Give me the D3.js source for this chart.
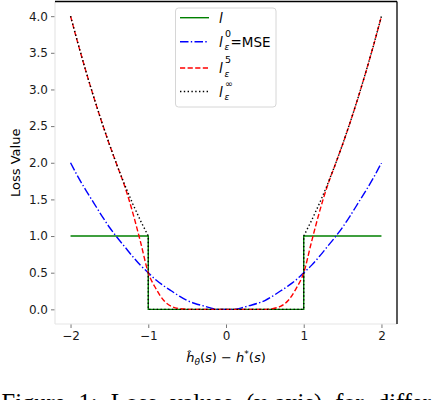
<!DOCTYPE html>
<html>
<head>
<meta charset="utf-8">
<title>Loss values</title>
<script src="https://d3js.org/d3.v7.min.js"></script>
<style>
  body { margin: 0; background: #fff; }
  svg text { font-family: "DejaVu Sans", sans-serif; }
</style>
</head>
<body>
<div id="chart"></div>
<script>
"use strict"

// x positions read along the horizontal axis
var xGrid = [-2.0, -1.9, -1.8, -1.7, -1.6, -1.5, -1.4, -1.3, -1.2, -1.1, -1.0,
             -0.9, -0.8, -0.7, -0.6, -0.5, -0.4, -0.3, -0.2, -0.1, 0.0,
              0.1,  0.2,  0.3,  0.4,  0.5,  0.6,  0.7,  0.8,  0.9, 1.0,
              1.1,  1.2,  1.3,  1.4,  1.5,  1.6,  1.7,  1.8,  1.9, 2.0];

// l_eps^0 = MSE (blue dash-dot)
var mseVals = [2.00, 1.80, 1.62, 1.45, 1.28, 1.12, 0.98, 0.85, 0.72, 0.60, 0.50,
               0.40, 0.32, 0.25, 0.18, 0.12, 0.08, 0.05, 0.02, 0.00, 0.00,
               0.00, 0.02, 0.05, 0.08, 0.12, 0.18, 0.25, 0.32, 0.40, 0.50,
               0.60, 0.72, 0.85, 0.98, 1.12, 1.28, 1.45, 1.62, 1.80, 2.00];

// l_eps^5 (red dashed)
var p5Vals = [4.00, 3.61, 3.24, 2.89, 2.56, 2.25, 1.96, 1.67, 1.32, 0.92, 0.50,
              0.28, 0.12, 0.04, 0.01, 0.00, 0.00, 0.00, 0.00, 0.00, 0.00,
              0.00, 0.00, 0.00, 0.00, 0.00, 0.01, 0.04, 0.12, 0.28, 0.50,
              0.92, 1.32, 1.67, 1.96, 2.25, 2.56, 2.89, 3.24, 3.61, 4.00];

// l_eps^inf (black dotted) - jumps at +-1
var infX = [-2.0, -1.9, -1.8, -1.7, -1.6, -1.5, -1.4, -1.3, -1.2, -1.1, -1.0,
            -1.0, 1.0,
             1.0,  1.1,  1.2,  1.3,  1.4,  1.5,  1.6,  1.7,  1.8,  1.9, 2.0];
var infVals = [4.00, 3.61, 3.24, 2.89, 2.56, 2.25, 1.96, 1.69, 1.44, 1.21, 1.00,
               0.00, 0.00,
               1.00, 1.21, 1.44, 1.69, 1.96, 2.25, 2.56, 2.89, 3.24, 3.61, 4.00];

// l (green step)
var stepX = [-2, -1, -1, 1, 1, 2];
var stepVals = [1, 1, 0, 0, 1, 1];

var xTicks = [-2, -1, 0, 1, 2];
var yTicks = [0.0, 0.5, 1.0, 1.5, 2.0, 2.5, 3.0, 3.5, 4.0];

var W = 432, H = 400;
var plotL = 55, plotR = 397, plotT = 1.5, plotB = 324;

var svg = d3.select('#chart').append('svg')
    .attr('width', W).attr('height', H);

var x = d3.scaleLinear().domain([-2.2, 2.2]).range([plotL, plotR]);
var y = d3.scaleLinear().domain([-0.2, 4.2]).range([plotB, plotT]);

// axes
var ax = svg.append('g')
    .attr('transform', 'translate(0,' + plotB + ')')
    .call(d3.axisBottom(x).tickValues(xTicks).tickFormat(d3.format('d'))
          .tickSizeOuter(0).tickSizeInner(4).tickPadding(3));
var ay = svg.append('g')
    .attr('transform', 'translate(' + plotL + ',0)')
    .call(d3.axisLeft(y).tickValues(yTicks).tickFormat(d3.format('.1f'))
          .tickSizeOuter(0).tickSizeInner(4).tickPadding(3));
[ax, ay].forEach(function(g) {
  g.select('.domain').remove();
  g.selectAll('.tick line').attr('stroke', '#555').attr('stroke-width', 0.8);
  g.selectAll('.tick text').attr('fill', '#1a1a1a')
    .style('font-family', '"DejaVu Sans", sans-serif').style('font-size', '12px');
});

// spines: left/bottom pale, top/right dark
svg.append('line').attr('x1', plotL).attr('x2', plotL).attr('y1', plotT).attr('y2', plotB)
  .attr('stroke', '#e6e6e6').attr('stroke-width', 1.2);
svg.append('line').attr('x1', plotL).attr('x2', plotR).attr('y1', plotB).attr('y2', plotB)
  .attr('stroke', '#e6e6e6').attr('stroke-width', 1.2);
svg.append('line').attr('x1', plotL).attr('x2', plotR).attr('y1', plotT).attr('y2', plotT)
  .attr('stroke', '#000').attr('stroke-width', 1.3);
svg.append('line').attr('x1', plotR).attr('x2', plotR).attr('y1', plotT).attr('y2', plotB)
  .attr('stroke', '#000').attr('stroke-width', 1.3);

function pts(xs, ys) { return xs.map(function(v, i) { return [v, ys[i]]; }); }

var lineLin = d3.line().x(function(d) { return x(d[0]); }).y(function(d) { return y(d[1]); });
var lineSmooth = d3.line().x(function(d) { return x(d[0]); }).y(function(d) { return y(d[1]); })
    .curve(d3.curveMonotoneX);

var series = [
  { data: pts(stepX, stepVals), color: '#008000', dash: null, gen: lineLin },
  { data: pts(xGrid, mseVals), color: '#0000ff', dash: '8.5,2.3,1.4,2.3', gen: lineSmooth },
  { data: pts(xGrid, p5Vals), color: '#ff0000', dash: '5.2,2.4', gen: lineSmooth },
  { data: pts(infX, infVals), color: '#000000', dash: '1.4,2.4', gen: lineLin }
];

series.forEach(function(s) {
  svg.append('path')
    .attr('d', s.gen(s.data))
    .attr('fill', 'none')
    .attr('stroke', s.color)
    .attr('stroke-width', 1.4)
    .attr('stroke-dasharray', s.dash);
});

// legend
var lg = svg.append('g');
lg.append('rect').attr('x', 175.5).attr('y', 8).attr('width', 100.5).attr('height', 99)
  .attr('rx', 3).attr('fill', 'rgba(255,255,255,0.85)').attr('stroke', '#d6d6d6').attr('stroke-width', 1);

var rows = [17.7, 41.7, 68, 91.5];
var sups = [null, '0', '5', '\u221e'];
series.forEach(function(s, i) {
  lg.append('line').attr('x1', 180).attr('x2', 209).attr('y1', rows[i]).attr('y2', rows[i])
    .attr('stroke', s.color).attr('stroke-width', 1.4).attr('stroke-dasharray', s.dash);
  lg.append('text').attr('x', 219).attr('y', rows[i] + 5.3)
    .style('font-size', '13.5px').style('font-style', 'italic').text('l');
  if (sups[i] !== null) {
    lg.append('text').attr('x', 225).attr('y', rows[i] - 5)
      .style('font-size', '9.5px').text(sups[i]);
    lg.append('text').attr('x', 224.5).attr('y', rows[i] + 8.5)
      .style('font-size', '9px').style('font-style', 'italic').text('\u03b5');
  }
});
lg.append('text').attr('x', 230.5).attr('y', rows[1] + 5.2)
  .style('font-size', '13.5px').text('=MSE');

// axis labels
svg.append('text')
  .attr('transform', 'translate(19.5,' + ((plotT + plotB) / 2) + ') rotate(-90)')
  .attr('text-anchor', 'middle').style('font-size', '13px').text('Loss Value');

var xl = svg.append('text').attr('x', (plotL + plotR) / 2).attr('y', 362)
  .attr('text-anchor', 'middle').style('font-size', '13px');
xl.append('tspan').style('font-style', 'italic').text('\u0125');
xl.append('tspan').attr('dy', 3).style('font-size', '9px').style('font-style', 'italic').text('\u03b8');
xl.append('tspan').attr('dy', -3).text('(');
xl.append('tspan').style('font-style', 'italic').text('s');
xl.append('tspan').text(') \u2212 ');
xl.append('tspan').style('font-style', 'italic').text('h');
xl.append('tspan').attr('dy', -5).style('font-size', '9px').text('*');
xl.append('tspan').attr('dy', 5).text('(');
xl.append('tspan').style('font-style', 'italic').text('s');
xl.append('tspan').text(')');

// caption (cut off by the frame)
svg.append('text').attr('x', 1.5).attr('y', 410.5)
  .style('font-family', '"Liberation Serif", "Times New Roman", serif')
  .style('font-size', '24.5px').style('word-spacing', '7px')
  .text('Figure 1: Loss values (y-axis) for different loss functions');
</script>
</body>
</html>
